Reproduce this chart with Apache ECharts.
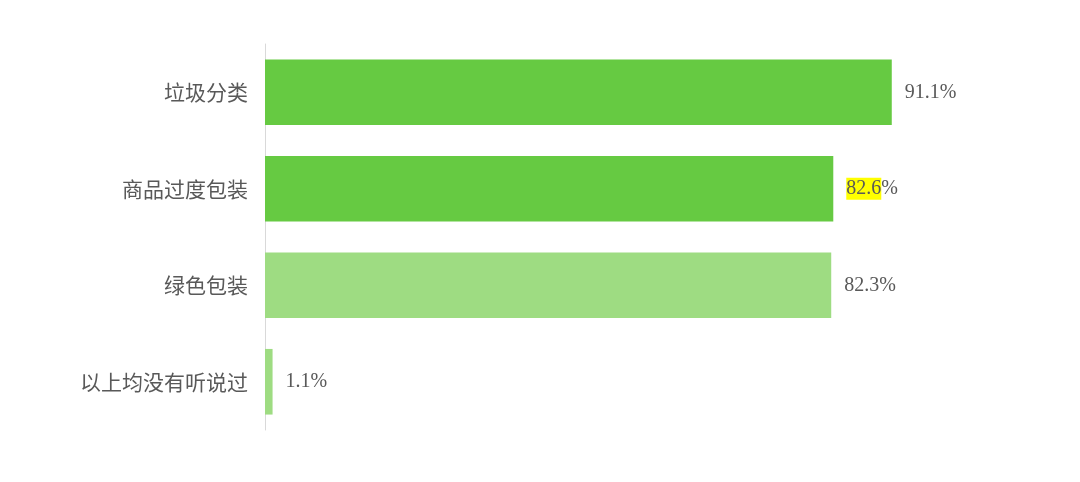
<!DOCTYPE html>
<html>
<head>
<meta charset="utf-8">
<script src="https://cdn.jsdelivr.net/npm/echarts@6/dist/echarts.min.js"></script>
<style>
  html, body { margin: 0; padding: 0; background: #fff; }
  #chart { width: 1080px; height: 482px; }
</style>
</head>
<body>
<div id="chart"></div>
<script>
// 数据
const categories = ["垃圾分类", "商品过度包装", "绿色包装", "以上均没有听说过"];
const values = [91.1, 82.6, 82.3, 1.1];
const barColors = ["#66CA42", "#66CA42", "#9EDC82", "#9EDC82"];
const highlighted = [false, true, false, false];

const fontFamily = '"Liberation Serif", "Noto Sans CJK SC", serif';

const chart = echarts.init(document.getElementById("chart"));

const option = {
  animation: false,
  grid: { left: 265, right: 127, top: 44, bottom: 52 },
  xAxis: {
    type: "value",
    min: 0,
    max: 100,
    show: false,
  },
  yAxis: {
    type: "category",
    inverse: true,
    data: categories,
    axisLine: { show: true, lineStyle: { color: "#d9d9d9", width: 1 } },
    axisTick: { show: false },
    axisLabel: {
      margin: 17,
      color: "#595959",
      fontSize: 21,
      fontFamily: '"Noto Sans CJK SC", sans-serif',
    },
  },
  series: [
    {
      type: "bar",
      barCategoryGap: "32%",
      data: values.map((v, i) => ({
        value: v,
        itemStyle: { color: barColors[i] },
      })),
      label: {
        show: true,
        position: "right",
        distance: 13,
        color: "#595959",
        fontSize: 20,
        fontFamily: fontFamily,
        formatter: (p) =>
          highlighted[p.dataIndex]
            ? "{hl|" + p.value.toFixed(1) + "}%"
            : p.value.toFixed(1) + "%",
        rich: {
          hl: {
            backgroundColor: "#FFFF00",
            color: "#595959",
            fontSize: 20,
            fontFamily: fontFamily,
            padding: [1, 0, 1, 0],
          },
        },
      },
    },
  ],
};

chart.setOption(option);
</script>
</body>
</html>
